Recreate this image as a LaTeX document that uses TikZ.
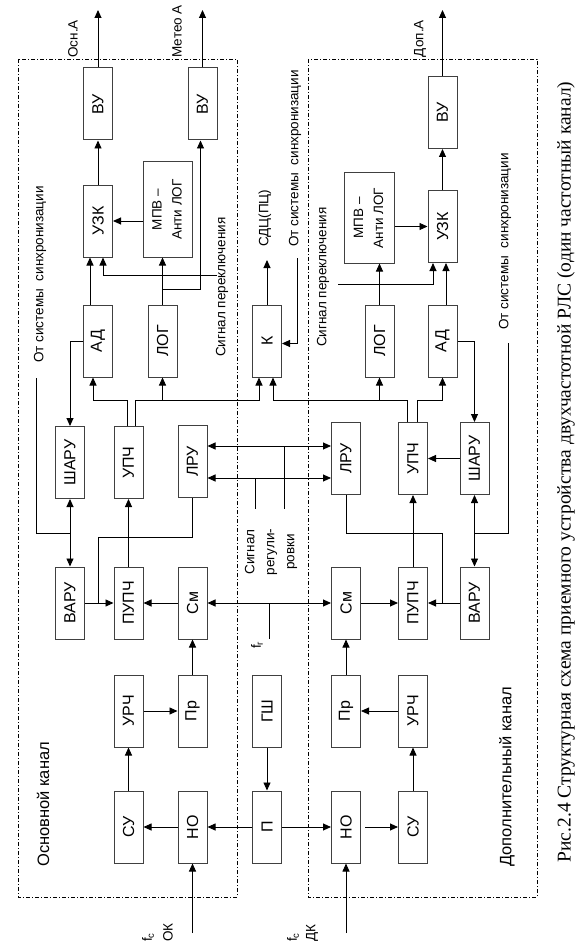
\documentclass[tikz,border=0pt]{standalone}
\usepackage{fontspec}
\setmainfont{Liberation Sans}
\newfontfamily\capfont{Liberation Serif}
\usetikzlibrary{arrows.meta}
\newcommand{\myrot}[1]{\rotatebox{90}{#1}}
\newcommand{\fs}{\fontsize{13.5}{16}\selectfont}
\newcommand{\fb}{\fontsize{16}{18}\selectfont}
\tikzset{
 blk/.style={draw=black!75, line width=1pt, minimum width=29pt, minimum height=72pt, inner sep=0pt, fill=white, font=\fb},
 arr/.style={line width=0.9pt, -{Triangle[length=8pt,width=7pt]}},
 darr/.style={line width=0.9pt, {Triangle[length=8pt,width=7pt]}-{Triangle[length=8pt,width=7pt]}},
 ln/.style={line width=0.9pt},
 frame/.style={line width=0.8pt, dash pattern=on 4pt off 2pt on 1pt off 2pt},
 lbl/.style={rotate=90, inner sep=0pt, font=\fs},
}
\begin{document}
\begin{tikzpicture}[x=1pt,y=-1pt]
\useasboundingbox (0,0) rectangle (586,944);
% frames
\draw[frame] (18,59) rectangle (237,897);
\draw[frame] (308,59) rectangle (537,897);
% left channel blocks
\node[blk] (vu1) at (98,104) {\myrot{ВУ}};
\node[blk] (vu2) at (202.5,104) {\myrot{ВУ}};
\node[blk] (uzk1) at (98,221) {\myrot{УЗК}};
\node[blk, minimum width=49pt, minimum height=95pt, font=\fontsize{13.5}{20}\selectfont] (mpv1) at (167.5,209.5) {\myrot{\begin{tabular}{@{}c@{}}МПВ –\\Анти ЛОГ\end{tabular}}};
\node[blk] (ad1) at (98,341) {\myrot{АД}};
\node[blk] (log1) at (162.5,341) {\myrot{ЛОГ}};
\node[blk] (sharu1) at (70,462.5) {\myrot{ШАРУ}};
\node[blk] (upch1) at (128.5,462.5) {\myrot{УПЧ}};
\node[blk] (lru1) at (192.5,461.5) {\myrot{ЛРУ}};
\node[blk] (varu1) at (70,603) {\myrot{ВАРУ}};
\node[blk] (pupch1) at (128.5,603) {\myrot{ПУПЧ}};
\node[blk] (sm1) at (192.5,603) {\myrot{См}};
\node[blk] (urch1) at (128.5,711) {\myrot{УРЧ}};
\node[blk] (pr1) at (192.5,711) {\myrot{Пр}};
\node[blk] (su1) at (128.5,827) {\myrot{СУ}};
\node[blk] (no1) at (192.5,827) {\myrot{НО}};
% centre
\node[blk] (k) at (267,341) {\myrot{К}};
\node[blk] (gsh) at (267,711) {\myrot{ГШ}};
\node[blk] (p) at (267,827) {\myrot{П}};
% right channel blocks
\node[blk] (vu3) at (442.5,112.5) {\myrot{ВУ}};
\node[blk] (uzk2) at (442.5,226.5) {\myrot{УЗК}};
\node[blk, minimum width=50pt, minimum height=90pt, font=\fontsize{13.5}{20}\selectfont] (mpv2) at (369,218) {\myrot{\begin{tabular}{@{}c@{}}МПВ –\\Анти ЛОГ\end{tabular}}};
\node[blk] (log2) at (379.5,341) {\myrot{ЛОГ}};
\node[blk] (ad2) at (442.5,341) {\myrot{АД}};
\node[blk] (lru2) at (346,458.5) {\myrot{ЛРУ}};
\node[blk] (upch2) at (413,458.5) {\myrot{УПЧ}};
\node[blk] (sharu2) at (474.5,458.5) {\myrot{ШАРУ}};
\node[blk] (sm2) at (346,603) {\myrot{См}};
\node[blk] (pupch2) at (413,603) {\myrot{ПУПЧ}};
\node[blk] (varu2) at (474.5,603) {\myrot{ВАРУ}};
\node[blk] (pr2) at (346,711) {\myrot{Пр}};
\node[blk] (urch2) at (413,711) {\myrot{УРЧ}};
\node[blk] (no2) at (346,827) {\myrot{НО}};
\node[blk] (su2) at (413,827) {\myrot{СУ}};
% helper coordinates
\coordinate (o1) at (98,10);
\coordinate (o2) at (202.5,10);
\coordinate (o3) at (442.5,10);
\coordinate (ko) at (267,260);
\coordinate (ss1) at (217,275);
\coordinate (ss2) at (338,284);
\coordinate (b1) at (162.5,289);
\coordinate (j1) at (93,400);
\coordinate (j2) at (259,400);
\coordinate (j3) at (273,400);
\coordinate (j4) at (442.5,400);
\coordinate (s0) at (297,258);
\coordinate (r1) at (284,446);
\coordinate (r2) at (255,478);
\coordinate (sl) at (36,378);
\coordinate (sl2) at (70,533);
\coordinate (sr) at (508,343);
\coordinate (sr2) at (474.5,533);
\coordinate (l1) at (98,537);
\coordinate (l2) at (442,533);
\coordinate (fg) at (269,639);
\coordinate (fc1) at (192.5,933);
\coordinate (fc2) at (346,933);
% outputs
\draw[arr] (vu1.north) -- (o1);
\draw[arr] (vu2.north) -- (o2);
\draw[arr] (vu3.north) -- (o3);
% left upper
\draw[arr] (uzk1.north) -- (vu1.south);
\draw[arr] (mpv1.west |- uzk1.east) -- (uzk1.east);
\draw[arr] ([xshift=-8pt]ad1.north) -- ([xshift=-8pt]uzk1.south);
\draw[arr] (ss1) -| ([xshift=5pt]uzk1.south);
\draw[arr] (log1.north) -- (log1.north |- mpv1.south);
\draw[arr] (b1) -| ([xshift=-2pt]vu2.south);
\draw[arr] (ad1.west) -| (sharu1.north);
\draw[arr] ([xshift=-1.5pt]upch1.north) |- (j1) -- (j1 |- ad1.south);
\draw[arr] ([xshift=6.5pt]upch1.north) |- (j2) -- (j2 |- k.south);
\draw[arr] (log1.south |- j2) -- (log1.south);
% centre
\draw[arr] (k.north) -- (ko);
\draw[arr] (s0) |- ([yshift=-2.5pt]k.east);
\draw[arr] ([xshift=-6pt]upch2.north) |- (j3) -- (j3 |- k.south);
\draw[arr] (log2.south |- j3) -- (log2.south);
\draw[arr] ([xshift=4pt]upch2.north) |- (j4) -- (ad2.south);
\draw[darr] (lru1.east |- r1) -- (lru2.west |- r1);
\draw[darr] (lru1.east |- r2) -- (lru2.west |- r2);
\draw[ln] (r1) -- ++(0,63);
\draw[ln] (r2) -- ++(0,31);
\draw[darr] (sm1.east) -- (sm2.west);
\draw[ln] (fg |- sm1.east) -- (fg);
\draw[arr] (gsh.south) -- (p.north);
\draw[arr] (p.west) -- (no1.east);
\draw[arr] (p.east) -- (no2.west);
% left lower
\draw[ln] (sl) |- (sl2);
\draw[darr] (sharu1.south) -- (varu1.north);
\draw[arr] (varu1.east) -- (pupch1.west);
\draw[ln] (lru1.south) |- (l1) -- (l1 |- pupch1.west);
\draw[arr] (pupch1.north) -- (upch1.south);
\draw[arr] (sm1.west) -- (pupch1.east);
\draw[arr] (pr1.north) -- (sm1.south);
\draw[arr] (urch1.east) -- (pr1.west);
\draw[arr] (su1.north) -- (urch1.south);
\draw[arr] (no1.west) -- (su1.east);
\draw[arr] (fc1) -- (no1.south);
% right upper
\draw[arr] (uzk2.north) -- (vu3.south);
\draw[arr] (mpv2.east |- uzk2.west) -- (uzk2.west);
\draw[arr] (log2.north) -- (log2.north |- mpv2.south);
\draw[arr] ([xshift=3.5pt]ad2.north) -- ([xshift=3.5pt]uzk2.south);
\draw[arr] (ss2) -| ([xshift=-9.5pt]uzk2.south);
\draw[arr] (ad2.east) -| (sharu2.north);
\draw[arr] (sharu2.west) -- (upch2.east);
% right lower
\draw[ln] (sr) |- (sr2);
\draw[darr] (sharu2.south) -- (varu2.north);
\draw[ln] (lru2.south) |- (l2) -- (l2 |- pupch2.east);
\draw[arr] (varu2.west) -- (pupch2.east);
\draw[arr] (sm2.east) -- (pupch2.west);
\draw[arr] (pupch2.north) -- (upch2.south);
\draw[arr] (pr2.north) -- (sm2.south);
\draw[arr] (urch2.west) -- (pr2.east);
\draw[arr] (su2.north) -- (urch2.south);
\draw[arr] ([xshift=4pt]no2.east) -- (su2.west);
\draw[arr] (fc2) -- (no2.south);
% labels
\node[lbl, anchor=east] (tOsn) at (73,20) {Осн.А};
\node[lbl, anchor=east] (tMet) at (177,5) {Метео А};
\node[lbl, anchor=east] (tDop) at (420,20) {Доп.А};
\node[lbl, anchor=west] (tSyncL) at (40,363) {От системы\ \ синхронизации};
\node[lbl, anchor=west] (tSyncC) at (295,247) {От системы\ \ синхронизации};
\node[lbl, anchor=west] (tSyncR) at (505,330) {От системы\ \ синхронизации};
\node[lbl, anchor=west] (tSwL) at (222,357) {Сигнал переключения};
\node[lbl, anchor=west] (tSwR) at (323,347) {Сигнал переключения};
\node[lbl, anchor=west] (tSdc) at (265,247) {СДЦ(ПЦ)};
\node[lbl, align=center, font=\fontsize{13.5}{20}\selectfont] (tReg) at (271,552) {Сигнал\\регули-\\ровки};
\node[lbl] (tFg) at (257,645) {f\textsubscript{г}};
\node[lbl, anchor=west] (tFc1) at (148,942) {f\textsubscript{c}};
\node[lbl, anchor=west] (tOK) at (168,942) {ОК};
\node[lbl, anchor=west] (tFc2) at (293,942) {f\textsubscript{c}};
\node[lbl, anchor=west] (tDK) at (312,942) {ДК};
\node[lbl, anchor=west, font=\fontsize{16.5}{20}\selectfont] (tMain) at (43,867) {Основной канал};
\node[lbl, anchor=west, font=\fontsize{16.5}{20}\selectfont] (tAdd) at (507,867) {Дополнительный канал};
\node[lbl, font=\capfont\fontsize{19.5}{22}\selectfont] (tCap) at (566,472) {Рис.2.4 Структурная схема приемного устройства двухчастотной РЛС (один частотный канал)};
\end{tikzpicture}
\end{document}
